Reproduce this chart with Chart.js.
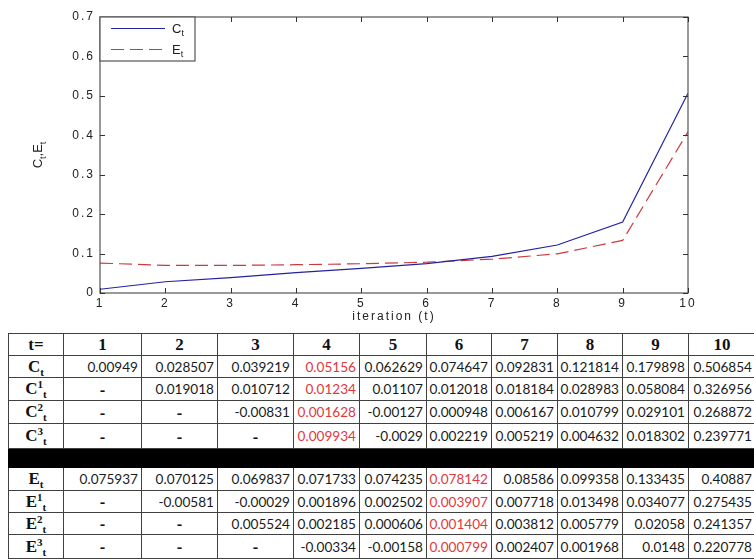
<!DOCTYPE html>
<html>
<head>
<meta charset="utf-8">
<script src="https://cdn.jsdelivr.net/npm/chart.js@4/dist/chart.umd.min.js"></script>
<style>
  html, body { margin: 0; padding: 0; background: #fff; width: 754px; height: 559px; overflow: hidden; }
  #plot { position: absolute; left: 0; top: 0; }
  #tbl { position: absolute; left: 8px; top: 333px; border-collapse: collapse; table-layout: fixed; width: 747px; }
  #tbl td { border: 1px solid #404040; padding: 0 3px 0 0; text-align: right; vertical-align: middle;
            font-family: Lato, "Open Sans", sans-serif; font-size: 13.6px; color: #1a1a1a; white-space: nowrap; overflow: hidden; }
  #tbl td.lbl, #tbl td.hd { text-align: center; padding: 0; font-family: "Liberation Serif", "Times New Roman", serif;
            font-weight: bold; font-size: 17px; color: #111; }
  #tbl td.dash { text-align: center; padding: 0; font-weight: bold; font-size: 16px; color: #111; }
  #tbl td.hl { color: #e0383c; }
  #tbl tr.sep td { background: #000; border-color: #000; }
  .sup { position: relative; top: -6px; font-size: 11px; }
  .sub { position: relative; top: 4px; font-size: 11px; }
</style>
</head>
<body>
<canvas id="plot" width="754" height="330"></canvas>
<table id="tbl"></table>
<script>
// iteration index t
const iterations = [1, 2, 3, 4, 5, 6, 7, 8, 9, 10];
const yTickValues = [0, 0.1, 0.2, 0.3, 0.4, 0.5, 0.6, 0.7];

// cumulative series and their successive differences
const seriesC  = [0.00949, 0.028507, 0.039219, 0.05156, 0.062629, 0.074647, 0.092831, 0.121814, 0.179898, 0.506854];
const seriesC1 = [null, 0.019018, 0.010712, 0.01234, 0.01107, 0.012018, 0.018184, 0.028983, 0.058084, 0.326956];
const seriesC2 = [null, null, -0.00831, 0.001628, -0.00127, 0.000948, 0.006167, 0.010799, 0.029101, 0.268872];
const seriesC3 = [null, null, null, 0.009934, -0.0029, 0.002219, 0.005219, 0.004632, 0.018302, 0.239771];

const seriesE  = [0.075937, 0.070125, 0.069837, 0.071733, 0.074235, 0.078142, 0.08586, 0.099358, 0.133435, 0.40887];
const seriesE1 = [null, -0.00581, -0.00029, 0.001896, 0.002502, 0.003907, 0.007718, 0.013498, 0.034077, 0.275435];
const seriesE2 = [null, null, 0.005524, 0.002185, 0.000606, 0.001404, 0.003812, 0.005779, 0.02058, 0.241357];
const seriesE3 = [null, null, null, -0.00334, -0.00158, 0.000799, 0.002407, 0.001968, 0.0148, 0.220778];

// iteration whose column is highlighted in each block of the table
const highlightC = 4;
const highlightE = 6;

const BLUE = '#23239c';
const RED = '#cc3a40';
const AXIS = '#555555';
const TEXT = '#222222';
const SANS = '"Liberation Sans", Arial, sans-serif';

// draws text made of normal and subscript pieces: parts = [[text, isSub], ...]
function drawParts(ctx, parts, x, y, size, subSize, subDrop) {
  let cx = x;
  for (const [txt, isSub] of parts) {
    ctx.font = (isSub ? subSize : size) + 'px ' + SANS;
    ctx.fillText(txt, cx, isSub ? y + subDrop : y);
    cx += ctx.measureText(txt).width;
  }
  return cx - x;
}
function partsWidth(ctx, parts, size, subSize) {
  let w = 0;
  for (const [txt, isSub] of parts) {
    ctx.font = (isSub ? subSize : size) + 'px ' + SANS;
    w += ctx.measureText(txt).width;
  }
  return w;
}

const spacingPlugin = {
  id: 'spacing',
  beforeDraw(chart) { chart.ctx.letterSpacing = '2px'; }
};

const framePlugin = {
  id: 'frame',
  afterDraw(chart) {
    const ctx = chart.ctx;
    const { left, right, top, bottom } = chart.chartArea;
    const xs = chart.scales.x, ys = chart.scales.y;
    ctx.save();
    ctx.letterSpacing = '0px';
    ctx.strokeStyle = AXIS;
    ctx.lineWidth = 1.2;
    ctx.strokeRect(left, top, right - left, bottom - top);
    ctx.lineWidth = 1;
    ctx.strokeStyle = '#333';
    ctx.beginPath();
    for (const t of iterations) {
      const px = Math.round(xs.getPixelForValue(t)) + 0.5;
      ctx.moveTo(px, bottom); ctx.lineTo(px, bottom - 5);
      ctx.moveTo(px, top); ctx.lineTo(px, top + 5);
    }
    for (const v of yTickValues) {
      const py = Math.round(ys.getPixelForValue(v)) + 0.5;
      ctx.moveTo(left, py); ctx.lineTo(left + 5, py);
      ctx.moveTo(right, py); ctx.lineTo(right - 5, py);
    }
    ctx.stroke();

    // legend box
    const lx = left, ly = top, lw = 95, lh = 44;
    ctx.fillStyle = '#fff';
    ctx.fillRect(lx, ly, lw, lh);
    ctx.strokeStyle = AXIS;
    ctx.lineWidth = 1.2;
    ctx.strokeRect(lx, ly, lw, lh);
    const entries = [
      { name: 'C', color: BLUE, dash: [], y: ly + 11 },
      { name: 'E', color: RED, dash: [13, 6], y: ly + 32 }
    ];
    for (const e of entries) {
      ctx.strokeStyle = e.color;
      ctx.lineWidth = 1.2;
      ctx.setLineDash(e.dash);
      ctx.beginPath();
      ctx.moveTo(lx + 11, e.y + 0.5); ctx.lineTo(lx + 65, e.y + 0.5);
      ctx.stroke();
      ctx.setLineDash([]);
      ctx.fillStyle = TEXT;
      ctx.textAlign = 'left';
      ctx.textBaseline = 'alphabetic';
      drawParts(ctx, [[e.name, false], ['t', true]], lx + 72, e.y + 4.5, 13, 9, 3.5);
    }

    // y-axis title
    const parts = [['C', false], ['t', true], [',', false], ['E', false], ['t', true]];
    ctx.translate(42, (top + bottom) / 2);
    ctx.rotate(-Math.PI / 2);
    ctx.fillStyle = TEXT;
    ctx.textAlign = 'left';
    ctx.textBaseline = 'alphabetic';
    const w = partsWidth(ctx, parts, 13, 9);
    drawParts(ctx, parts, -w / 2, 0, 13, 9, 4);
    ctx.restore();
  }
};

new Chart(document.getElementById('plot'), {
  type: 'line',
  data: {
    labels: iterations,
    datasets: [
      { label: 'C', data: iterations.map((t, i) => ({ x: t, y: seriesC[i] })),
        borderColor: BLUE, borderWidth: 1.2, pointRadius: 0, tension: 0, fill: false },
      { label: 'E', data: iterations.map((t, i) => ({ x: t, y: seriesE[i] })),
        borderColor: RED, borderWidth: 1.2, borderDash: [13, 6], pointRadius: 0, tension: 0, fill: false }
    ]
  },
  options: {
    responsive: false,
    animation: false,
    devicePixelRatio: 1,
    layout: { padding: { top: 17, right: 66, left: 0, bottom: 0 } },
    plugins: { legend: { display: false }, tooltip: { enabled: false } },
    scales: {
      x: {
        type: 'linear', min: 1, max: 10,
        afterBuildTicks(s) { s.ticks = iterations.map(v => ({ value: v })); },
        afterFit(s) { s.height = 37; },
        grid: { display: false, drawTicks: false },
        border: { display: false },
        ticks: { padding: 3, color: TEXT, maxRotation: 0, autoSkip: false, font: { family: SANS, size: 12 } },
        title: { display: true, text: 'iteration (t)', color: TEXT, padding: { top: 0, bottom: 6 }, font: { family: SANS, size: 12 } }
      },
      y: {
        min: 0, max: 0.7,
        afterBuildTicks(s) { s.ticks = yTickValues.map(v => ({ value: v })); },
        afterFit(s) { s.width = 100; },
        grid: { display: false, drawTicks: false },
        border: { display: false },
        ticks: { padding: 5, color: TEXT, font: { family: SANS, size: 12 }, callback: v => String(v) }
      }
    }
  },
  plugins: [spacingPlugin, framePlugin]
});

// table of values
const rowDefs = [
  { base: 'C', sup: '',  vals: seriesC,  hl: highlightC, h: 22 },
  { base: 'C', sup: '1', vals: seriesC1, hl: highlightC, h: 23 },
  { base: 'C', sup: '2', vals: seriesC2, hl: highlightC, h: 23 },
  { base: 'C', sup: '3', vals: seriesC3, hl: highlightC, h: 25 },
  null,
  { base: 'E', sup: '',  vals: seriesE,  hl: highlightE, h: 23 },
  { base: 'E', sup: '1', vals: seriesE1, hl: highlightE, h: 22 },
  { base: 'E', sup: '2', vals: seriesE2, hl: highlightE, h: 22 },
  { base: 'E', sup: '3', vals: seriesE3, hl: highlightE, h: 24 }
];
const colWidths = [55, 78, 76, 76, 66, 67, 65, 66, 65, 66, 67];

let html = '<colgroup>' + colWidths.map(w => '<col style="width:' + w + 'px">').join('') + '</colgroup>';
html += '<tr style="height:22px"><td class="hd">t=</td>' + iterations.map(t => '<td class="hd">' + t + '</td>').join('') + '</tr>';
for (const r of rowDefs) {
  if (!r) { html += '<tr class="sep" style="height:19px"><td colspan="11"></td></tr>'; continue; }
  const label = r.base + (r.sup ? '<span class="sup">' + r.sup + '</span>' : '') + '<span class="sub">t</span>';
  html += '<tr style="height:' + r.h + 'px"><td class="lbl">' + label + '</td>';
  r.vals.forEach((v, i) => {
    if (v === null) html += '<td class="dash">-</td>';
    else html += '<td' + (iterations[i] === r.hl ? ' class="hl"' : '') + '>' + String(v) + '</td>';
  });
  html += '</tr>';
}
document.getElementById('tbl').innerHTML = html;
</script>
</body>
</html>
